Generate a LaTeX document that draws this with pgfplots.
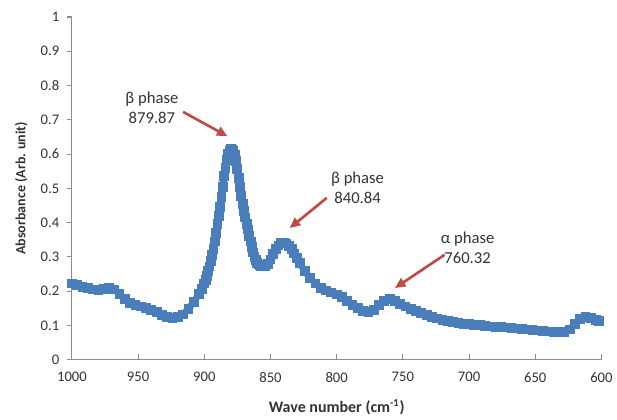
\documentclass[border=0pt]{standalone}
\usepackage{pgfplots}
\pgfplotsset{compat=1.18}
\usepackage{fontspec}
\setmainfont{Carlito}
\usetikzlibrary{arrows.meta}
\definecolor{xlblue}{HTML}{4A7EBB}
\definecolor{xlred}{HTML}{BE4B48}
\definecolor{axgray}{HTML}{8C8C8C}
\definecolor{txt}{HTML}{333333}
\pgfplotstableread{
w a
1000 0.222
996 0.218
992 0.213
988 0.208
984 0.205
980 0.204
976 0.207
972 0.209
968 0.205
964 0.192
960 0.176
956 0.166
952 0.160
948 0.155
944 0.150
940 0.145
936 0.138
932 0.131
928 0.125
924 0.122
920 0.124
916 0.132
912 0.148
908 0.168
904 0.192
902 0.206
900 0.222
899 0.232
898 0.245
897 0.258
896 0.272
895 0.288
894 0.305
893 0.323
892 0.345
891 0.370
890 0.395
889 0.420
888 0.445
887 0.475
886 0.505
885 0.535
884 0.560
883 0.582
882 0.600
881 0.610
880 0.614
879 0.613
878 0.608
877 0.597
876 0.580
875 0.557
874 0.530
873 0.503
872 0.478
871 0.455
870 0.434
869 0.415
868 0.397
867 0.380
866 0.362
865 0.345
864 0.328
863 0.313
862 0.300
861 0.290
860 0.283
859 0.278
858 0.275
857 0.273
856 0.272
854 0.273
852 0.280
850 0.292
848 0.308
846 0.322
844 0.333
842 0.340
840 0.342
838 0.339
836 0.332
834 0.322
832 0.310
830 0.296
828 0.282
824 0.258
820 0.238
816 0.222
812 0.210
808 0.202
804 0.196
800 0.190
796 0.182
792 0.172
788 0.160
784 0.150
780 0.142
776 0.138
772 0.145
768 0.160
764 0.172
760 0.178
756 0.172
752 0.162
748 0.155
744 0.148
740 0.142
736 0.136
732 0.130
728 0.125
724 0.120
720 0.116
716 0.113
712 0.110
708 0.107
704 0.105
700 0.103
696 0.101
692 0.100
688 0.098
684 0.097
680 0.096
676 0.095
672 0.094
668 0.092
664 0.091
660 0.090
656 0.088
652 0.086
648 0.085
644 0.083
640 0.082
636 0.080
632 0.079
628 0.080
624 0.088
620 0.104
616 0.118
612 0.124
608 0.122
604 0.115
602 0.112
}\spectrum
\begin{document}
\begin{tikzpicture}
\begin{axis}[
  scale only axis,
  width=397.5pt, height=257.25pt,
  x dir=reverse,
  xmin=600, xmax=1000, ymin=0, ymax=1,
  xtick={600,650,...,1000},
  ytick={0,0.1,...,1.0},
  axis lines*=left,
  axis line style={axgray, line width=0.8pt},
  tick style={axgray, line width=0.8pt},
  major tick length=4pt,
  ytick align=outside,
  xtick align=inside,
  /pgf/number format/assume math mode=true,
  /pgf/number format/1000 sep={},
  yticklabel style={/pgf/number format/fixed, /pgf/number format/precision=1, xshift=-2pt},
  xticklabel style={yshift=-6pt},
  tick label style={font=\fontsize{11}{13}\selectfont, text=txt},
  xlabel={\textbf{Wave number (cm\textsuperscript{-1})}},
  ylabel={\textbf{Absorbance (Arb. unit)}},
  xlabel style={font=\fontsize{12}{14}\selectfont, text=txt, yshift=-6pt},
  ylabel style={font=\fontsize{10.5}{12}\selectfont, text=txt, yshift=3pt},
  clip=false,
]
\addplot[line width=5pt, color=xlblue, line join=round, mark=square*, mark size=3.3pt, mark options={draw=xlblue, fill=xlblue, line width=0pt}] table[x=w, y=a] {\spectrum};
\draw[xlred, line width=2pt, -{Triangle[length=8pt,width=7pt]}] (axis cs:916,0.723) -- (axis cs:882.5,0.652);
\draw[xlred, line width=2pt, -{Triangle[length=8pt,width=7pt]}] (axis cs:807.5,0.472) -- (axis cs:835.5,0.384);
\draw[xlred, line width=2pt, -{Triangle[length=8pt,width=7pt]}] (axis cs:718.5,0.306) -- (axis cs:756,0.209);
\node[align=center, text=txt, font=\fontsize{12.5}{15}\selectfont] at (axis cs:939.6,0.736) {β phase\\879.87};
\node[align=center, text=txt, font=\fontsize{12.5}{15}\selectfont] at (axis cs:784.2,0.501) {β phase\\840.84};
\node[align=center, text=txt, font=\fontsize{12.5}{15}\selectfont] at (axis cs:701.1,0.327) {α phase\\760.32};
\end{axis}
\path ([xshift=-54pt,yshift=-41.25pt]current axis.south west) -- ([xshift=408.75pt,yshift=270pt]current axis.south west);
\end{tikzpicture}
\end{document}
